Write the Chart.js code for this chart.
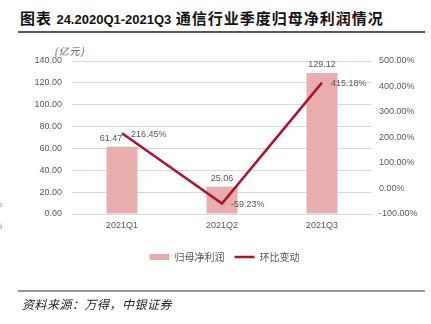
<!DOCTYPE html>
<html>
<head>
<meta charset="utf-8">
<script src="https://cdn.jsdelivr.net/npm/chart.js@4"></script>
<style>
  body { margin: 0; width: 431px; height: 324px; background: #fff; position: relative; overflow: hidden; }
  #title { position: absolute; left: 20px; top: 7px; white-space: nowrap; color: #111;
           font-family: "Noto Sans CJK SC", sans-serif; font-weight: bold; font-size: 15px; letter-spacing: 1px; }
  #title .num { font-family: "Liberation Sans", Arial, sans-serif; font-size: 13px; letter-spacing: 0; }
  .rule { position: absolute; left: 18px; width: 407px; }
  #unit { position: absolute; left: 54px; top: 43px; font-family: "Noto Sans CJK SC", sans-serif;
          font-size: 10px; color: #595959; font-style: italic; letter-spacing: 1px; }
  #source { position: absolute; left: 22px; top: 295px; font-family: "Noto Sans CJK SC", sans-serif;
            font-size: 12px; color: #222; font-style: italic; letter-spacing: 0.5px; }
  .stray { position: absolute; left: -6px; font-family: "Liberation Sans", Arial, sans-serif;
           font-size: 9px; color: #7f7f7f; }
  #wrap { position: absolute; left: 0; top: 0; width: 431px; height: 324px; }
</style>
</head>
<body>
<div id="title">图表 <span class="num">24.2020Q1-2021Q3</span> 通信行业季度归母净利润情况</div>
<div class="rule" style="top:31px;height:2px;background:#555;"></div>
<div id="unit">(亿元)</div>
<div class="stray" style="top:199px">%</div>
<div class="stray" style="top:221px">%</div>
<div id="wrap"><canvas id="chart"></canvas></div>
<div class="rule" style="top:290px;height:2px;background:#999;"></div>
<div id="source">资料来源：万得，中银证券</div>

<script>
// Data
const categories = ['2021Q1', '2021Q2', '2021Q3'];
const netProfit = [61.47, 25.06, 129.12];      // 归母净利润 (亿元)
const qoqChange = [216.45, -59.23, 415.18];    // 环比变动 (%)

const seriesNames = {
    profit: '归母净利润',
    change: '环比变动'
};

const colors = {
    bar: '#E8ADAD',
    line: '#B0122B',
    text: '#595959',
    grid: '#D9D9D9'
};

const numFont = '"Liberation Sans", Arial, sans-serif';

// Labels on bars and line points
const valueLabels = {
    id: 'valueLabels',
    afterDatasetsDraw(chart) {
        const ctx = chart.ctx;
        // first bar label is nudged left so it clears the line
        const barNudge = [-11, 0, 0];
        ctx.save();
        ctx.font = '9px ' + numFont;
        ctx.fillStyle = colors.text;

        chart.getDatasetMeta(0).data.forEach((bar, i) => {
            ctx.textAlign = 'center';
            ctx.textBaseline = 'alphabetic';
            ctx.fillText(netProfit[i].toFixed(2), bar.x + barNudge[i], bar.y - 6);
        });

        chart.getDatasetMeta(1).data.forEach((pt, i) => {
            ctx.textAlign = 'left';
            ctx.textBaseline = 'middle';
            ctx.fillText(qoqChange[i].toFixed(2) + '%', pt.x + 9, pt.y + 1);
        });
        ctx.restore();
    }
};

new Chart(document.getElementById('chart'), {
    data: {
        labels: categories,
        datasets: [{
            type: 'bar',
            label: seriesNames.profit,
            data: netProfit,
            backgroundColor: colors.bar,
            barPercentage: 0.31,
            categoryPercentage: 1,
            yAxisID: 'y',
            pointStyle: 'rect',
            order: 1
        }, {
            type: 'line',
            label: seriesNames.change,
            data: qoqChange,
            borderColor: colors.line,
            backgroundColor: colors.line,
            borderWidth: 2.5,
            pointRadius: 0,
            tension: 0,
            yAxisID: 'y1',
            pointStyle: 'line',
            order: 0
        }]
    },
    options: {
        responsive: true,
        maintainAspectRatio: false,
        animation: false,
        layout: { padding: { top: 61, left: 18, right: 0, bottom: 52 } },
        plugins: {
            tooltip: { enabled: false },
            legend: {
                position: 'bottom',
                labels: {
                    usePointStyle: true,
                    pointStyleWidth: 20,
                    boxHeight: 6,
                    padding: 10,
                    color: colors.text,
                    font: { family: '"Noto Sans CJK SC", sans-serif', size: 10 },
                    sort: (a, b) => a.datasetIndex - b.datasetIndex
                }
            }
        },
        scales: {
            x: {
                grid: { display: false, drawTicks: false },
                border: { color: colors.grid },
                ticks: { color: colors.text, padding: 6, font: { family: numFont, size: 9 } },
                afterFit: s => { s.height = 28; }
            },
            y: {
                position: 'left',
                min: 0,
                max: 140,
                grid: { color: colors.grid, drawTicks: false },
                border: { display: false },
                ticks: {
                    stepSize: 20,
                    padding: 10,
                    color: colors.text,
                    font: { family: numFont, size: 9 },
                    callback: v => v.toFixed(2)
                },
                afterFit: s => { s.width = 54; }
            },
            y1: {
                position: 'right',
                min: -100,
                max: 500,
                grid: { display: false, drawTicks: false },
                border: { display: false },
                ticks: {
                    stepSize: 100,
                    padding: 7,
                    color: colors.text,
                    font: { family: numFont, size: 9 },
                    callback: v => v.toFixed(2) + '%'
                },
                afterFit: s => { s.width = 59; }
            }
        }
    },
    plugins: [valueLabels]
});
</script>
</body>
</html>
